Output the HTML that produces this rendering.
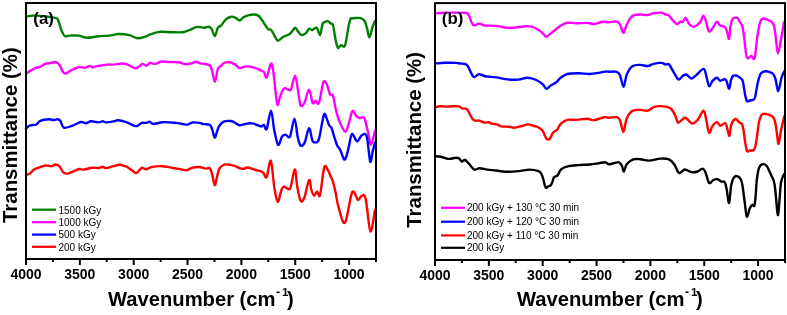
<!DOCTYPE html>
<html><head><meta charset="utf-8"><style>
html,body{margin:0;padding:0;background:#fff;}
svg{display:block;font-family:"Liberation Sans", sans-serif;will-change:transform;}
</style></head><body>
<svg width="787" height="315" viewBox="0 0 787 315">
<rect width="787" height="315" fill="#fff"/>
<g fill="none" stroke-width="2.4" stroke-linejoin="round" stroke-linecap="round">
<path stroke="#008000" d="M26.10,16.70 C27.40,16.52 29.08,15.42 33.90,15.60 C38.72,15.78 50.92,16.88 55.00,17.80 C59.08,18.72 57.28,18.88 58.40,21.10 C59.52,23.32 60.60,28.58 61.70,31.10 C62.80,33.62 63.70,35.45 65.00,36.20 C66.30,36.95 67.27,35.70 69.50,35.60 C71.73,35.50 75.43,35.23 78.40,35.60 C81.37,35.97 83.97,37.70 87.30,37.80 C90.63,37.90 94.70,36.57 98.40,36.20 C102.10,35.83 106.17,35.97 109.50,35.60 C112.83,35.23 115.07,34.08 118.40,34.00 C121.73,33.92 126.35,34.40 129.50,35.10 C132.65,35.80 134.70,37.93 137.30,38.20 C139.90,38.47 142.68,37.43 145.10,36.70 C147.52,35.97 149.22,34.62 151.80,33.80 C154.38,32.98 157.27,32.07 160.60,31.80 C163.93,31.53 168.08,32.13 171.80,32.20 C175.52,32.27 179.93,32.57 182.90,32.20 C185.87,31.83 187.38,30.85 189.60,30.00 C191.82,29.15 194.47,27.58 196.20,27.10 C197.93,26.62 198.63,26.98 200.00,27.10 C201.37,27.22 202.92,27.87 204.40,27.80 C205.88,27.73 207.70,26.52 208.90,26.70 C210.10,26.88 210.60,27.35 211.60,28.90 C212.60,30.45 213.87,36.18 214.90,36.00 C215.93,35.82 216.77,29.53 217.80,27.80 C218.83,26.07 219.80,26.97 221.10,25.60 C222.40,24.23 223.93,21.08 225.60,19.60 C227.27,18.12 229.43,17.00 231.10,16.70 C232.77,16.40 234.18,17.17 235.60,17.80 C237.02,18.43 238.30,20.58 239.60,20.50 C240.90,20.42 241.85,18.20 243.40,17.30 C244.95,16.40 247.05,15.57 248.90,15.10 C250.75,14.63 252.83,14.35 254.50,14.50 C256.17,14.65 257.42,14.72 258.90,16.00 C260.38,17.28 261.92,20.05 263.40,22.20 C264.88,24.35 266.50,27.60 267.80,28.90 C269.10,30.20 270.08,28.88 271.20,30.00 C272.32,31.12 273.40,33.82 274.50,35.60 C275.60,37.38 276.32,40.52 277.80,40.70 C279.28,40.88 281.53,37.73 283.40,36.70 C285.27,35.67 287.52,35.43 289.00,34.50 C290.48,33.57 291.27,32.22 292.30,31.10 C293.33,29.98 294.28,27.80 295.20,27.80 C296.12,27.80 296.80,29.92 297.80,31.10 C298.80,32.28 299.90,34.52 301.20,34.90 C302.50,35.28 304.30,34.40 305.60,33.40 C306.90,32.40 307.88,29.47 309.00,28.90 C310.12,28.33 311.02,30.18 312.30,30.00 C313.58,29.82 315.40,26.98 316.70,27.80 C318.00,28.62 319.13,35.53 320.10,34.90 C321.07,34.27 321.72,26.15 322.50,24.00 C323.28,21.85 323.92,22.47 324.80,22.00 C325.68,21.53 326.82,20.95 327.80,21.20 C328.78,21.45 329.83,22.83 330.70,23.50 C331.57,24.17 332.18,22.45 333.00,25.20 C333.82,27.95 334.78,36.23 335.60,40.00 C336.42,43.77 336.97,46.95 337.90,47.80 C338.83,48.65 340.02,45.47 341.20,45.10 C342.38,44.73 343.78,48.67 345.00,45.60 C346.22,42.53 347.58,31.13 348.50,26.70 C349.42,22.27 349.92,20.42 350.50,19.00 C351.08,17.58 351.08,18.37 352.00,18.20 C352.92,18.03 354.58,18.00 356.00,18.00 C357.42,18.00 359.07,17.70 360.50,18.20 C361.93,18.70 363.48,19.22 364.60,21.00 C365.72,22.78 366.40,26.17 367.20,28.90 C368.00,31.63 368.55,37.58 369.40,37.40 C370.25,37.22 371.37,30.52 372.30,27.80 C373.23,25.08 374.55,22.22 375.00,21.10"/>
<path stroke="#ff00ff" d="M26.10,73.50 C26.85,73.02 28.93,71.53 30.60,70.60 C32.27,69.67 34.43,68.57 36.10,67.90 C37.77,67.23 39.12,67.27 40.60,66.60 C42.08,65.93 43.33,64.50 45.00,63.90 C46.67,63.30 48.82,63.32 50.60,63.00 C52.38,62.68 54.22,61.67 55.70,62.00 C57.18,62.33 58.32,63.38 59.50,65.00 C60.68,66.62 61.77,70.28 62.80,71.70 C63.83,73.12 64.40,73.68 65.70,73.50 C67.00,73.32 68.48,71.65 70.60,70.60 C72.72,69.55 76.00,67.68 78.40,67.20 C80.80,66.72 83.15,67.92 85.00,67.70 C86.85,67.48 88.20,65.98 89.50,65.90 C90.80,65.82 91.32,67.20 92.80,67.20 C94.28,67.20 95.98,66.33 98.40,65.90 C100.82,65.47 104.72,64.82 107.30,64.60 C109.88,64.38 111.32,64.78 113.90,64.60 C116.48,64.42 120.38,63.43 122.80,63.50 C125.22,63.57 126.35,64.20 128.40,65.00 C130.45,65.80 133.35,68.00 135.10,68.30 C136.85,68.60 137.68,67.53 138.90,66.80 C140.12,66.07 141.12,64.08 142.40,63.90 C143.68,63.72 145.30,65.88 146.60,65.70 C147.90,65.52 148.78,63.10 150.20,62.80 C151.62,62.50 153.17,64.12 155.10,63.90 C157.03,63.68 159.40,61.80 161.80,61.50 C164.20,61.20 166.73,61.97 169.50,62.10 C172.27,62.23 175.80,61.97 178.40,62.30 C181.00,62.63 183.05,63.87 185.10,64.10 C187.15,64.33 188.85,64.10 190.70,63.70 C192.55,63.30 194.65,61.77 196.20,61.70 C197.75,61.63 198.43,62.92 200.00,63.30 C201.57,63.68 203.93,63.62 205.60,64.00 C207.27,64.38 208.90,64.42 210.00,65.60 C211.10,66.78 211.38,68.40 212.20,71.10 C213.02,73.80 214.02,81.98 214.90,81.80 C215.78,81.62 216.82,72.38 217.50,70.00 C218.18,67.62 218.42,68.17 219.00,67.50 C219.58,66.83 220.20,66.75 221.00,66.00 C221.80,65.25 222.30,63.62 223.80,63.00 C225.30,62.38 228.10,62.03 230.00,62.30 C231.90,62.57 233.60,63.63 235.20,64.60 C236.80,65.57 238.13,67.72 239.60,68.10 C241.07,68.48 242.70,67.18 244.00,66.90 C245.30,66.62 245.67,66.28 247.40,66.40 C249.13,66.52 252.20,66.93 254.40,67.60 C256.60,68.27 259.00,69.65 260.60,70.40 C262.20,71.15 262.98,70.93 264.00,72.10 C265.02,73.27 265.53,78.80 266.70,77.40 C267.87,76.00 269.88,64.57 271.00,63.70 C272.12,62.83 272.37,65.48 273.40,72.20 C274.43,78.92 276.10,99.92 277.20,104.00 C278.30,108.08 278.85,99.28 280.00,96.70 C281.15,94.12 282.60,89.62 284.10,88.50 C285.60,87.38 287.82,89.93 289.00,90.00 C290.18,90.07 290.20,91.30 291.20,88.90 C292.20,86.50 293.90,75.60 295.00,75.60 C296.10,75.60 296.88,83.98 297.80,88.90 C298.72,93.82 299.38,102.80 300.50,105.10 C301.62,107.40 303.08,105.28 304.50,102.70 C305.92,100.12 307.63,89.57 309.00,89.60 C310.37,89.63 311.60,101.05 312.70,102.90 C313.80,104.75 314.55,100.70 315.60,100.70 C316.65,100.70 317.70,105.98 319.00,102.90 C320.30,99.82 322.10,85.27 323.40,82.20 C324.70,79.13 325.68,82.45 326.80,84.50 C327.92,86.55 329.07,92.65 330.10,94.50 C331.13,96.35 332.07,93.18 333.00,95.60 C333.93,98.02 334.65,104.77 335.70,109.00 C336.75,113.23 337.72,117.22 339.30,121.00 C340.88,124.78 343.62,131.32 345.20,131.70 C346.78,132.08 347.60,126.75 348.80,123.30 C350.00,119.85 351.20,112.27 352.40,111.00 C353.60,109.73 354.82,114.52 356.00,115.70 C357.18,116.88 358.12,117.70 359.50,118.10 C360.88,118.50 362.90,115.83 364.30,118.10 C365.70,120.37 366.78,127.25 367.90,131.70 C369.02,136.15 369.82,145.00 371.00,144.80 C372.18,144.60 374.33,132.88 375.00,130.50"/>
<path stroke="#0000ff" d="M26.00,128.40 C26.68,127.90 28.37,126.05 30.10,125.40 C31.83,124.75 34.72,125.25 36.40,124.50 C38.08,123.75 38.08,121.77 40.20,120.90 C42.32,120.03 46.87,119.43 49.10,119.30 C51.33,119.17 52.12,120.12 53.60,120.10 C55.08,120.08 56.83,119.00 58.00,119.20 C59.17,119.40 59.63,119.88 60.60,121.30 C61.57,122.72 61.90,126.95 63.80,127.70 C65.70,128.45 69.15,126.75 72.00,125.80 C74.85,124.85 78.57,122.43 80.90,122.00 C83.23,121.57 84.30,123.32 86.00,123.20 C87.70,123.08 88.98,121.43 91.10,121.30 C93.22,121.17 96.80,122.40 98.70,122.40 C100.60,122.40 101.23,121.30 102.50,121.30 C103.77,121.30 104.38,122.40 106.30,122.40 C108.22,122.40 112.08,121.65 114.00,121.30 C115.92,120.95 115.77,120.15 117.80,120.30 C119.83,120.45 123.50,121.32 126.20,122.20 C128.90,123.08 132.15,124.97 134.00,125.60 C135.85,126.23 136.02,126.45 137.30,126.00 C138.58,125.55 140.22,123.42 141.70,122.90 C143.18,122.38 144.90,123.08 146.20,122.90 C147.50,122.72 148.28,121.62 149.50,121.80 C150.72,121.98 151.27,123.93 153.50,124.00 C155.73,124.07 159.12,122.38 162.90,122.20 C166.68,122.02 173.13,122.65 176.20,122.90 C179.27,123.15 179.38,123.42 181.30,123.70 C183.22,123.98 185.83,124.80 187.70,124.60 C189.57,124.40 190.52,122.78 192.50,122.50 C194.48,122.22 197.75,122.63 199.60,122.90 C201.45,123.17 201.88,123.77 203.60,124.10 C205.32,124.43 208.45,123.97 209.90,124.90 C211.35,125.83 211.50,127.58 212.30,129.70 C213.10,131.82 213.90,137.33 214.70,137.60 C215.50,137.87 216.32,133.28 217.10,131.30 C217.88,129.32 218.22,127.35 219.40,125.70 C220.58,124.05 222.33,122.18 224.20,121.40 C226.07,120.62 228.88,120.82 230.60,121.00 C232.32,121.18 233.05,121.80 234.50,122.50 C235.95,123.20 237.58,124.93 239.30,125.20 C241.02,125.47 243.08,124.42 244.80,124.10 C246.52,123.78 248.13,123.37 249.60,123.30 C251.07,123.23 252.28,123.38 253.60,123.70 C254.92,124.02 256.18,124.73 257.50,125.20 C258.82,125.67 260.43,126.55 261.50,126.50 C262.57,126.45 263.03,124.50 263.90,124.90 C264.77,125.30 265.52,131.28 266.70,128.90 C267.88,126.52 269.75,110.47 271.00,110.60 C272.25,110.73 273.02,124.00 274.20,129.70 C275.38,135.40 276.78,143.68 278.10,144.80 C279.42,145.92 280.83,138.07 282.10,136.40 C283.37,134.73 284.38,134.80 285.70,134.80 C287.02,134.80 288.53,139.10 290.00,136.40 C291.47,133.70 293.23,118.60 294.50,118.60 C295.77,118.60 296.60,131.92 297.60,136.40 C298.60,140.88 299.30,144.50 300.50,145.50 C301.70,146.50 303.38,145.30 304.80,142.40 C306.22,139.50 307.73,128.42 309.00,128.10 C310.27,127.78 311.32,138.12 312.40,140.50 C313.48,142.88 314.40,142.68 315.50,142.40 C316.60,142.12 317.62,143.37 319.00,138.80 C320.38,134.23 322.55,118.47 323.80,115.00 C325.05,111.53 325.63,116.33 326.50,118.00 C327.37,119.67 328.17,123.33 329.00,125.00 C329.83,126.67 330.67,126.17 331.50,128.00 C332.33,129.83 333.08,133.17 334.00,136.00 C334.92,138.83 335.92,142.58 337.00,145.00 C338.08,147.42 339.33,148.10 340.50,150.50 C341.67,152.90 343.00,158.48 344.00,159.40 C345.00,160.32 345.67,158.23 346.50,156.00 C347.33,153.77 348.08,149.67 349.00,146.00 C349.92,142.33 350.65,134.80 352.00,134.00 C353.35,133.20 355.45,141.00 357.10,141.20 C358.75,141.40 360.30,136.00 361.90,135.20 C363.50,134.40 365.32,132.03 366.70,136.40 C368.08,140.77 369.22,158.82 370.20,161.40 C371.18,163.98 371.80,155.07 372.60,151.90 C373.40,148.73 374.60,143.98 375.00,142.40"/>
<path stroke="#ff0000" d="M26.00,174.80 C26.68,174.57 28.78,174.27 30.10,173.40 C31.42,172.53 32.22,170.65 33.90,169.60 C35.58,168.55 38.18,167.78 40.20,167.10 C42.22,166.42 44.08,165.65 46.00,165.50 C47.92,165.35 50.12,166.37 51.70,166.20 C53.28,166.03 54.23,164.50 55.50,164.50 C56.77,164.50 58.03,164.92 59.30,166.20 C60.57,167.48 62.03,171.00 63.10,172.20 C64.17,173.40 64.75,173.20 65.70,173.40 C66.65,173.60 67.53,173.75 68.80,173.40 C70.07,173.05 71.50,172.03 73.30,171.30 C75.10,170.57 77.90,169.28 79.60,169.00 C81.30,168.72 81.38,169.82 83.50,169.60 C85.62,169.38 89.77,167.97 92.30,167.70 C94.83,167.43 97.00,168.15 98.70,168.00 C100.40,167.85 101.23,166.78 102.50,166.80 C103.77,166.82 104.60,168.17 106.30,168.10 C108.00,168.03 110.47,166.95 112.70,166.40 C114.93,165.85 117.65,164.83 119.70,164.80 C121.75,164.77 123.73,165.82 125.00,166.20 C126.27,166.58 125.98,166.28 127.30,167.10 C128.62,167.92 131.35,170.13 132.90,171.10 C134.45,172.07 135.13,173.45 136.60,172.90 C138.07,172.35 140.10,168.40 141.70,167.80 C143.30,167.20 144.60,169.42 146.20,169.30 C147.80,169.18 148.70,167.62 151.30,167.10 C153.90,166.58 158.38,166.08 161.80,166.20 C165.22,166.32 168.55,167.27 171.80,167.80 C175.05,168.33 178.78,169.00 181.30,169.40 C183.82,169.80 185.17,170.47 186.90,170.20 C188.63,169.93 189.72,168.33 191.70,167.80 C193.68,167.27 196.42,166.87 198.80,167.00 C201.18,167.13 204.15,168.38 206.00,168.60 C207.85,168.82 208.85,167.25 209.90,168.30 C210.95,169.35 211.50,172.08 212.30,174.90 C213.10,177.72 213.90,184.93 214.70,185.20 C215.50,185.47 216.32,179.27 217.10,176.50 C217.88,173.73 218.22,170.58 219.40,168.60 C220.58,166.62 222.33,165.22 224.20,164.60 C226.07,163.98 228.75,164.63 230.60,164.90 C232.45,165.17 233.72,165.63 235.30,166.20 C236.88,166.77 238.77,167.85 240.10,168.30 C241.43,168.75 241.98,169.03 243.30,168.90 C244.62,168.77 245.93,167.32 248.00,167.50 C250.07,167.68 253.23,169.20 255.70,170.00 C258.17,170.80 260.98,171.12 262.80,172.30 C264.62,173.48 265.27,179.02 266.60,177.10 C267.93,175.18 269.52,159.13 270.80,160.80 C272.08,162.47 273.15,180.25 274.30,187.10 C275.45,193.95 276.52,201.42 277.70,201.90 C278.88,202.38 280.32,192.57 281.40,190.00 C282.48,187.43 282.77,186.75 284.20,186.50 C285.63,186.25 288.23,191.35 290.00,188.50 C291.77,185.65 293.62,169.87 294.80,169.40 C295.98,168.93 296.15,180.52 297.10,185.70 C298.05,190.88 299.32,198.45 300.50,200.50 C301.68,202.55 302.77,201.42 304.20,198.00 C305.63,194.58 307.90,181.33 309.10,180.00 C310.30,178.67 310.55,187.38 311.40,190.00 C312.25,192.62 313.25,195.47 314.20,195.70 C315.15,195.93 316.13,191.50 317.10,191.40 C318.07,191.30 318.82,199.05 320.00,195.10 C321.18,191.15 322.93,171.98 324.20,167.70 C325.47,163.42 326.55,168.02 327.60,169.40 C328.65,170.78 329.60,173.90 330.50,176.00 C331.40,178.10 332.17,179.33 333.00,182.00 C333.83,184.67 334.58,187.82 335.50,192.00 C336.42,196.18 336.92,201.97 338.50,207.10 C340.08,212.23 342.72,225.28 345.00,222.80 C347.28,220.32 350.05,196.00 352.20,192.20 C354.35,188.40 356.38,199.33 357.90,200.00 C359.42,200.67 360.02,196.45 361.30,196.20 C362.58,195.95 364.08,192.65 365.60,198.50 C367.12,204.35 368.83,229.38 370.40,231.30 C371.97,233.22 374.23,213.55 375.00,210.00"/>
<path stroke="#ff00ff" d="M435.10,13.30 C436.77,13.20 440.10,12.77 445.10,12.70 C450.10,12.63 461.33,12.70 465.10,12.90 C468.87,13.10 466.95,13.20 467.70,13.90 C468.45,14.60 468.97,15.72 469.60,17.10 C470.23,18.48 470.77,20.82 471.50,22.20 C472.23,23.58 472.70,25.17 474.00,25.40 C475.30,25.63 477.45,23.57 479.30,23.60 C481.15,23.63 483.02,25.27 485.10,25.60 C487.18,25.93 489.57,25.50 491.80,25.60 C494.03,25.70 495.90,25.83 498.50,26.20 C501.10,26.57 504.43,27.60 507.40,27.80 C510.37,28.00 513.33,27.67 516.30,27.40 C519.27,27.13 522.62,26.32 525.20,26.20 C527.78,26.08 529.58,26.07 531.80,26.70 C534.02,27.33 536.63,28.88 538.50,30.00 C540.37,31.12 541.70,32.28 543.00,33.40 C544.30,34.52 545.02,36.70 546.30,36.70 C547.58,36.70 549.22,34.52 550.70,33.40 C552.18,32.28 553.53,31.30 555.20,30.00 C556.87,28.70 558.67,26.82 560.70,25.60 C562.73,24.38 564.80,23.08 567.40,22.70 C570.00,22.32 572.97,23.27 576.30,23.30 C579.63,23.33 584.43,22.78 587.40,22.90 C590.37,23.02 591.50,24.18 594.10,24.00 C596.70,23.82 600.52,22.10 603.00,21.80 C605.48,21.50 606.70,22.23 609.00,22.20 C611.30,22.17 614.95,21.22 616.80,21.60 C618.65,21.98 618.98,22.62 620.10,24.50 C621.22,26.38 622.38,32.90 623.50,32.90 C624.62,32.90 625.33,27.32 626.80,24.50 C628.27,21.68 630.08,17.67 632.30,16.00 C634.52,14.33 637.50,14.65 640.10,14.50 C642.70,14.35 645.67,15.30 647.90,15.10 C650.13,14.90 651.27,13.70 653.50,13.30 C655.73,12.90 659.27,12.50 661.30,12.70 C663.33,12.90 664.42,14.02 665.70,14.50 C666.98,14.98 667.70,14.50 669.00,15.60 C670.30,16.70 672.08,19.70 673.50,21.10 C674.92,22.50 676.38,23.92 677.50,24.00 C678.62,24.08 679.28,21.97 680.20,21.60 C681.12,21.23 682.08,22.43 683.00,21.80 C683.92,21.17 684.68,17.43 685.70,17.80 C686.72,18.17 687.80,22.52 689.10,24.00 C690.40,25.48 692.03,26.62 693.50,26.70 C694.97,26.78 696.68,25.43 697.90,24.50 C699.12,23.57 699.87,22.58 700.80,21.10 C701.73,19.62 702.60,15.42 703.50,15.60 C704.40,15.78 705.27,19.53 706.20,22.20 C707.13,24.87 707.88,30.85 709.10,31.60 C710.32,32.35 712.20,28.33 713.50,26.70 C714.80,25.07 715.78,21.98 716.90,21.80 C718.02,21.62 718.92,24.78 720.20,25.60 C721.48,26.42 723.48,25.78 724.60,26.70 C725.72,27.62 726.15,29.07 726.90,31.10 C727.65,33.13 728.50,39.75 729.10,38.90 C729.70,38.05 729.93,29.32 730.50,26.00 C731.07,22.68 731.75,20.37 732.50,19.00 C733.25,17.63 734.17,17.97 735.00,17.80 C735.83,17.63 736.75,17.38 737.50,18.00 C738.25,18.62 738.83,20.42 739.50,21.50 C740.17,22.58 740.92,23.25 741.50,24.50 C742.08,25.75 742.50,26.42 743.00,29.00 C743.50,31.58 743.85,35.27 744.50,40.00 C745.15,44.73 745.77,54.73 746.90,57.40 C748.03,60.07 750.00,55.93 751.30,56.00 C752.60,56.07 753.67,61.20 754.70,57.80 C755.73,54.40 756.40,41.97 757.50,35.60 C758.60,29.23 759.55,22.20 761.30,19.60 C763.05,17.00 765.95,19.18 768.00,20.00 C770.05,20.82 772.30,21.53 773.60,24.50 C774.90,27.47 775.07,32.98 775.80,37.80 C776.53,42.62 777.08,53.40 778.00,53.40 C778.92,53.40 780.30,43.00 781.30,37.80 C782.30,32.60 783.55,24.80 784.00,22.20"/>
<path stroke="#0000ff" d="M435.10,63.50 C436.77,63.38 441.58,62.90 445.10,62.80 C448.62,62.70 453.72,62.78 456.20,62.90 C458.68,63.02 458.52,63.32 460.00,63.50 C461.48,63.68 463.82,63.60 465.10,64.00 C466.38,64.40 466.85,64.73 467.70,65.90 C468.55,67.07 469.47,69.52 470.20,71.00 C470.93,72.48 471.40,73.78 472.10,74.80 C472.80,75.82 473.23,77.22 474.40,77.10 C475.57,76.98 477.32,74.25 479.10,74.10 C480.88,73.95 482.23,75.65 485.10,76.20 C487.97,76.75 492.58,76.87 496.30,77.40 C500.02,77.93 503.70,79.03 507.40,79.40 C511.10,79.77 515.17,79.87 518.50,79.60 C521.83,79.33 524.43,77.73 527.40,77.80 C530.37,77.87 533.70,78.88 536.30,80.00 C538.90,81.12 541.33,83.02 543.00,84.50 C544.67,85.98 545.02,88.72 546.30,88.90 C547.58,89.08 549.03,86.72 550.70,85.60 C552.37,84.48 554.63,83.50 556.30,82.20 C557.97,80.90 558.85,79.17 560.70,77.80 C562.55,76.43 564.43,74.75 567.40,74.00 C570.37,73.25 574.78,73.30 578.50,73.30 C582.22,73.30 586.35,74.07 589.70,74.00 C593.05,73.93 596.02,73.30 598.60,72.90 C601.18,72.50 603.47,71.78 605.20,71.60 C606.93,71.42 607.07,71.77 609.00,71.80 C610.93,71.83 614.95,71.17 616.80,71.80 C618.65,72.43 618.98,73.12 620.10,75.60 C621.22,78.08 622.38,86.88 623.50,86.70 C624.62,86.52 625.33,77.92 626.80,74.50 C628.27,71.08 630.08,67.80 632.30,66.20 C634.52,64.60 637.50,64.93 640.10,64.90 C642.70,64.87 645.67,66.18 647.90,66.00 C650.13,65.82 651.27,64.32 653.50,63.80 C655.73,63.28 659.27,62.78 661.30,62.90 C663.33,63.02 664.42,64.23 665.70,64.50 C666.98,64.77 667.70,63.28 669.00,64.50 C670.30,65.72 671.93,69.32 673.50,71.80 C675.07,74.28 676.92,78.67 678.40,79.40 C679.88,80.13 681.07,77.02 682.40,76.20 C683.73,75.38 684.92,74.12 686.40,74.50 C687.88,74.88 689.75,78.32 691.30,78.50 C692.85,78.68 693.67,77.20 695.70,75.60 C697.73,74.00 701.75,68.90 703.50,68.90 C705.25,68.90 705.27,72.72 706.20,75.60 C707.13,78.48 708.07,85.28 709.10,86.20 C710.13,87.12 711.10,82.50 712.40,81.10 C713.70,79.70 715.60,77.87 716.90,77.80 C718.20,77.73 718.73,80.40 720.20,80.70 C721.67,81.00 724.22,78.23 725.70,79.60 C727.18,80.97 728.22,88.83 729.10,88.90 C729.98,88.97 730.35,82.15 731.00,80.00 C731.65,77.85 732.17,76.75 733.00,76.00 C733.83,75.25 735.00,75.33 736.00,75.50 C737.00,75.67 738.08,76.42 739.00,77.00 C739.92,77.58 740.83,78.17 741.50,79.00 C742.17,79.83 742.42,79.50 743.00,82.00 C743.58,84.50 744.33,90.78 745.00,94.00 C745.67,97.22 746.17,100.22 747.00,101.30 C747.83,102.38 749.00,100.75 750.00,100.50 C751.00,100.25 752.17,100.30 753.00,99.80 C753.83,99.30 754.23,100.20 755.00,97.50 C755.77,94.80 756.77,87.35 757.60,83.60 C758.43,79.85 759.27,76.85 760.00,75.00 C760.73,73.15 760.97,73.13 762.00,72.50 C763.03,71.87 764.55,71.10 766.20,71.20 C767.85,71.30 770.47,72.13 771.90,73.10 C773.33,74.07 774.03,75.18 774.80,77.00 C775.57,78.82 775.97,81.63 776.50,84.00 C777.03,86.37 777.42,91.03 778.00,91.20 C778.58,91.37 779.43,87.20 780.00,85.00 C780.57,82.80 780.68,80.30 781.40,78.00 C782.12,75.70 783.82,72.33 784.30,71.20"/>
<path stroke="#ff0000" d="M435.10,107.50 C435.92,107.28 438.02,106.35 440.00,106.20 C441.98,106.05 445.00,106.58 447.00,106.60 C449.00,106.62 450.00,106.35 452.00,106.30 C454.00,106.25 457.25,105.93 459.00,106.30 C460.75,106.67 461.25,108.08 462.50,108.50 C463.75,108.92 465.50,108.30 466.50,108.80 C467.50,109.30 467.83,110.38 468.50,111.50 C469.17,112.62 469.83,114.25 470.50,115.50 C471.17,116.75 471.75,118.13 472.50,119.00 C473.25,119.87 473.92,120.43 475.00,120.70 C476.08,120.97 477.37,120.28 479.00,120.60 C480.63,120.92 483.20,122.33 484.80,122.60 C486.40,122.87 487.32,121.98 488.60,122.20 C489.88,122.42 491.22,123.58 492.50,123.90 C493.78,124.22 494.83,123.68 496.30,124.10 C497.77,124.52 499.18,125.97 501.30,126.40 C503.42,126.83 506.88,126.48 509.00,126.70 C511.12,126.92 511.88,127.82 514.00,127.70 C516.12,127.58 519.37,126.55 521.70,126.00 C524.03,125.45 525.95,124.40 528.00,124.40 C530.05,124.40 532.43,125.60 534.00,126.00 C535.57,126.40 535.98,126.03 537.40,126.80 C538.82,127.57 541.02,128.67 542.50,130.60 C543.98,132.53 545.12,137.00 546.30,138.40 C547.48,139.80 548.48,139.93 549.60,139.00 C550.72,138.07 551.70,134.38 553.00,132.80 C554.30,131.22 556.12,130.98 557.40,129.50 C558.68,128.02 559.03,125.50 560.70,123.90 C562.37,122.30 564.80,120.57 567.40,119.90 C570.00,119.23 572.97,120.08 576.30,119.90 C579.63,119.72 584.43,118.77 587.40,118.80 C590.37,118.83 591.32,120.37 594.10,120.10 C596.88,119.83 601.62,117.60 604.10,117.20 C606.58,116.80 606.88,117.70 609.00,117.70 C611.12,117.70 614.95,116.72 616.80,117.20 C618.65,117.68 618.98,118.18 620.10,120.60 C621.22,123.02 622.38,132.08 623.50,131.70 C624.62,131.32 625.33,121.75 626.80,118.30 C628.27,114.85 630.08,112.40 632.30,111.00 C634.52,109.60 637.50,109.97 640.10,109.90 C642.70,109.83 645.67,111.05 647.90,110.60 C650.13,110.15 651.47,107.95 653.50,107.20 C655.53,106.45 657.70,106.10 660.10,106.10 C662.50,106.10 666.12,106.80 667.90,107.20 C669.68,107.60 669.88,107.70 670.80,108.50 C671.72,109.30 672.65,110.83 673.40,112.00 C674.15,113.17 674.73,114.17 675.30,115.50 C675.87,116.83 676.28,118.78 676.80,120.00 C677.32,121.22 677.47,122.88 678.40,122.80 C679.33,122.72 681.18,120.32 682.40,119.50 C683.62,118.68 684.03,117.23 685.70,117.90 C687.37,118.57 690.37,123.23 692.40,123.50 C694.43,123.77 696.05,121.65 697.90,119.50 C699.75,117.35 702.12,110.60 703.50,110.60 C704.88,110.60 705.27,115.80 706.20,119.50 C707.13,123.20 708.07,131.70 709.10,132.80 C710.13,133.90 711.10,127.88 712.40,126.10 C713.70,124.32 715.60,122.17 716.90,122.10 C718.20,122.03 718.73,125.47 720.20,125.70 C721.67,125.93 724.22,121.82 725.70,123.50 C727.18,125.18 728.22,135.38 729.10,135.80 C729.98,136.22 730.35,128.47 731.00,126.00 C731.65,123.53 732.22,122.17 733.00,121.00 C733.78,119.83 734.62,118.75 735.70,119.00 C736.78,119.25 738.45,121.67 739.50,122.50 C740.55,123.33 741.33,122.75 742.00,124.00 C742.67,125.25 743.00,127.17 743.50,130.00 C744.00,132.83 744.42,137.50 745.00,141.00 C745.58,144.50 746.17,149.42 747.00,151.00 C747.83,152.58 748.83,150.70 750.00,150.50 C751.17,150.30 753.00,151.05 754.00,149.80 C755.00,148.55 755.42,145.80 756.00,143.00 C756.58,140.20 757.00,136.50 757.50,133.00 C758.00,129.50 758.35,124.97 759.00,122.00 C759.65,119.03 760.52,116.58 761.40,115.20 C762.28,113.82 762.87,113.70 764.30,113.70 C765.73,113.70 768.42,114.47 770.00,115.20 C771.58,115.93 772.85,116.47 773.80,118.10 C774.75,119.73 775.17,122.35 775.70,125.00 C776.23,127.65 776.52,130.87 777.00,134.00 C777.48,137.13 777.93,144.38 778.60,143.80 C779.27,143.22 780.05,135.10 781.00,130.50 C781.95,125.90 783.75,118.58 784.30,116.20"/>
<path stroke="#000000" d="M435.10,156.20 C436.03,156.28 438.47,156.25 440.70,156.70 C442.93,157.15 445.92,158.72 448.50,158.90 C451.08,159.08 454.35,157.80 456.20,157.80 C458.05,157.80 458.67,158.27 459.60,158.90 C460.53,159.53 460.88,161.42 461.80,161.60 C462.72,161.78 463.80,159.52 465.10,160.00 C466.40,160.48 468.03,162.90 469.60,164.50 C471.17,166.10 472.83,168.98 474.50,169.60 C476.17,170.22 477.45,168.20 479.60,168.20 C481.75,168.20 484.62,169.22 487.40,169.60 C490.18,169.98 493.33,170.13 496.30,170.50 C499.27,170.87 501.50,171.70 505.20,171.80 C508.90,171.90 514.43,171.47 518.50,171.10 C522.57,170.73 526.27,169.60 529.60,169.60 C532.93,169.60 536.52,170.37 538.50,171.10 C540.48,171.83 540.67,172.52 541.50,174.00 C542.33,175.48 542.92,178.00 543.50,180.00 C544.08,182.00 544.53,184.67 545.00,186.00 C545.47,187.33 545.80,187.92 546.30,188.00 C546.80,188.08 547.30,186.92 548.00,186.50 C548.70,186.08 549.83,186.08 550.50,185.50 C551.17,184.92 551.42,184.37 552.00,183.00 C552.58,181.63 553.07,178.57 554.00,177.30 C554.93,176.03 556.42,176.73 557.60,175.40 C558.78,174.07 559.28,170.83 561.10,169.30 C562.92,167.77 565.60,166.90 568.50,166.20 C571.40,165.50 574.97,165.38 578.50,165.10 C582.03,164.82 586.35,164.80 589.70,164.50 C593.05,164.20 596.02,163.68 598.60,163.30 C601.18,162.92 603.47,162.03 605.20,162.20 C606.93,162.37 607.42,164.18 609.00,164.30 C610.58,164.42 613.03,163.23 614.70,162.90 C616.37,162.57 617.80,161.83 619.00,162.30 C620.20,162.77 621.08,164.17 621.90,165.70 C622.72,167.23 623.10,171.73 623.90,171.50 C624.70,171.27 625.13,166.32 626.70,164.30 C628.27,162.28 631.00,160.25 633.30,159.40 C635.60,158.55 637.88,159.00 640.50,159.20 C643.12,159.40 645.67,160.70 649.00,160.60 C652.33,160.50 657.17,158.80 660.50,158.60 C663.83,158.40 666.72,158.45 669.00,159.40 C671.28,160.35 672.52,162.05 674.20,164.30 C675.88,166.55 677.33,172.03 679.10,172.90 C680.87,173.77 682.67,169.60 684.80,169.50 C686.93,169.40 689.77,171.97 691.90,172.30 C694.03,172.63 695.78,172.12 697.60,171.50 C699.42,170.88 701.45,168.37 702.80,168.60 C704.15,168.83 704.65,170.52 705.70,172.90 C706.75,175.28 707.82,181.72 709.10,182.90 C710.38,184.08 711.97,180.62 713.40,180.00 C714.83,179.38 716.42,178.95 717.70,179.20 C718.98,179.45 719.92,180.98 721.10,181.50 C722.28,182.02 723.85,180.88 724.80,182.30 C725.75,183.72 726.08,186.57 726.80,190.00 C727.52,193.43 728.33,203.85 729.10,202.90 C729.87,201.95 730.45,188.68 731.40,184.30 C732.35,179.92 733.52,177.78 734.80,176.60 C736.08,175.42 737.90,176.15 739.10,177.20 C740.30,178.25 741.05,178.62 742.00,182.90 C742.95,187.18 744.00,197.28 744.80,202.90 C745.60,208.52 745.98,215.65 746.80,216.60 C747.62,217.55 748.80,210.53 749.70,208.60 C750.60,206.67 751.42,205.52 752.20,205.00 C752.98,204.48 753.82,207.17 754.40,205.50 C754.98,203.83 755.30,199.25 755.70,195.00 C756.10,190.75 756.27,184.45 756.80,180.00 C757.33,175.55 758.00,170.92 758.90,168.30 C759.80,165.68 760.90,164.68 762.20,164.30 C763.50,163.92 765.22,164.22 766.70,166.00 C768.18,167.78 769.88,172.38 771.10,175.00 C772.32,177.62 773.27,178.87 774.00,181.70 C774.73,184.53 774.87,186.45 775.50,192.00 C776.13,197.55 777.13,213.67 777.80,215.00 C778.47,216.33 778.95,205.50 779.50,200.00 C780.05,194.50 780.35,186.28 781.10,182.00 C781.85,177.72 783.52,175.58 784.00,174.30"/>
</g>
<rect x="26" y="3" width="350" height="256" fill="none" stroke="#000" stroke-width="2"/>
<line x1="376.00" y1="259" x2="376.00" y2="262" stroke="#000" stroke-width="2"/>
<line x1="349.08" y1="259" x2="349.08" y2="265" stroke="#000" stroke-width="2"/>
<text x="349.08" y="278.5" text-anchor="middle" font-size="14" font-weight="700">1000</text>
<line x1="322.15" y1="259" x2="322.15" y2="262" stroke="#000" stroke-width="2"/>
<line x1="295.23" y1="259" x2="295.23" y2="265" stroke="#000" stroke-width="2"/>
<text x="295.23" y="278.5" text-anchor="middle" font-size="14" font-weight="700">1500</text>
<line x1="268.31" y1="259" x2="268.31" y2="262" stroke="#000" stroke-width="2"/>
<line x1="241.38" y1="259" x2="241.38" y2="265" stroke="#000" stroke-width="2"/>
<text x="241.38" y="278.5" text-anchor="middle" font-size="14" font-weight="700">2000</text>
<line x1="214.46" y1="259" x2="214.46" y2="262" stroke="#000" stroke-width="2"/>
<line x1="187.54" y1="259" x2="187.54" y2="265" stroke="#000" stroke-width="2"/>
<text x="187.54" y="278.5" text-anchor="middle" font-size="14" font-weight="700">2500</text>
<line x1="160.62" y1="259" x2="160.62" y2="262" stroke="#000" stroke-width="2"/>
<line x1="133.69" y1="259" x2="133.69" y2="265" stroke="#000" stroke-width="2"/>
<text x="133.69" y="278.5" text-anchor="middle" font-size="14" font-weight="700">3000</text>
<line x1="106.77" y1="259" x2="106.77" y2="262" stroke="#000" stroke-width="2"/>
<line x1="79.85" y1="259" x2="79.85" y2="265" stroke="#000" stroke-width="2"/>
<text x="79.85" y="278.5" text-anchor="middle" font-size="14" font-weight="700">3500</text>
<line x1="52.92" y1="259" x2="52.92" y2="262" stroke="#000" stroke-width="2"/>
<line x1="26.00" y1="259" x2="26.00" y2="265" stroke="#000" stroke-width="2"/>
<text x="26.00" y="278.5" text-anchor="middle" font-size="14" font-weight="700">4000</text>
<rect x="435" y="3.1" width="350" height="256.9" fill="none" stroke="#000" stroke-width="2"/>
<line x1="785.00" y1="260" x2="785.00" y2="263" stroke="#000" stroke-width="2"/>
<line x1="758.08" y1="260" x2="758.08" y2="266" stroke="#000" stroke-width="2"/>
<text x="758.08" y="279.5" text-anchor="middle" font-size="14" font-weight="700">1000</text>
<line x1="731.15" y1="260" x2="731.15" y2="263" stroke="#000" stroke-width="2"/>
<line x1="704.23" y1="260" x2="704.23" y2="266" stroke="#000" stroke-width="2"/>
<text x="704.23" y="279.5" text-anchor="middle" font-size="14" font-weight="700">1500</text>
<line x1="677.31" y1="260" x2="677.31" y2="263" stroke="#000" stroke-width="2"/>
<line x1="650.38" y1="260" x2="650.38" y2="266" stroke="#000" stroke-width="2"/>
<text x="650.38" y="279.5" text-anchor="middle" font-size="14" font-weight="700">2000</text>
<line x1="623.46" y1="260" x2="623.46" y2="263" stroke="#000" stroke-width="2"/>
<line x1="596.54" y1="260" x2="596.54" y2="266" stroke="#000" stroke-width="2"/>
<text x="596.54" y="279.5" text-anchor="middle" font-size="14" font-weight="700">2500</text>
<line x1="569.62" y1="260" x2="569.62" y2="263" stroke="#000" stroke-width="2"/>
<line x1="542.69" y1="260" x2="542.69" y2="266" stroke="#000" stroke-width="2"/>
<text x="542.69" y="279.5" text-anchor="middle" font-size="14" font-weight="700">3000</text>
<line x1="515.77" y1="260" x2="515.77" y2="263" stroke="#000" stroke-width="2"/>
<line x1="488.85" y1="260" x2="488.85" y2="266" stroke="#000" stroke-width="2"/>
<text x="488.85" y="279.5" text-anchor="middle" font-size="14" font-weight="700">3500</text>
<line x1="461.92" y1="260" x2="461.92" y2="263" stroke="#000" stroke-width="2"/>
<line x1="435.00" y1="260" x2="435.00" y2="266" stroke="#000" stroke-width="2"/>
<text x="435.00" y="279.5" text-anchor="middle" font-size="14" font-weight="700">4000</text>
<text x="33.3" y="23.6" font-size="16.8" font-weight="700">(a)</text>
<text x="441.8" y="23.6" font-size="16.8" font-weight="700">(b)</text>
<text transform="translate(16.5,135.15) rotate(-90)" text-anchor="middle" font-size="20.4" font-weight="700">Transmittance (%)</text>
<text transform="translate(420.5,139.9) rotate(-90)" text-anchor="middle" font-size="20.4" font-weight="700">Transmittance (%)</text>
<text x="108" y="306" font-size="20.2" font-weight="700">Wavenumber (cm</text><text x="276" y="296" font-size="12" font-weight="700">-</text><text x="282" y="296" font-size="11.5" font-weight="700">1</text><text x="287" y="306" font-size="20.2" font-weight="700">)</text>
<text x="517" y="306" font-size="20.2" font-weight="700">Wavenumber (cm</text><text x="685" y="296" font-size="12" font-weight="700">-</text><text x="691" y="296" font-size="11.5" font-weight="700">1</text><text x="696" y="306" font-size="20.2" font-weight="700">)</text>
<g stroke-width="2.2">
<line x1="32" y1="209.7" x2="56" y2="209.7" stroke="#008000"/>
<line x1="32" y1="222.2" x2="56" y2="222.2" stroke="#ff00ff"/>
<line x1="32" y1="234.6" x2="56" y2="234.6" stroke="#0000ff"/>
<line x1="32" y1="246.8" x2="56" y2="246.8" stroke="#ff0000"/>
<line x1="441" y1="207.8" x2="465" y2="207.8" stroke="#ff00ff"/>
<line x1="441" y1="221.7" x2="465" y2="221.7" stroke="#0000ff"/>
<line x1="441" y1="235.4" x2="465" y2="235.4" stroke="#ff0000"/>
<line x1="441" y1="247.8" x2="465" y2="247.8" stroke="#000000"/>
</g>
<g font-size="10">
<text x="58.5" y="213.5">1500 kGy</text>
<text x="58.5" y="226">1000 kGy</text>
<text x="58.5" y="238.4">500 kGy</text>
<text x="58.5" y="250.6">200 kGy</text>
<text x="467" y="211.3">200 kGy + 130 °C 30 min</text>
<text x="467" y="225.2">200 kGy + 120 °C 30 min</text>
<text x="467" y="238.9">200 kGy + 110 °C 30 min</text>
<text x="467" y="251.3">200 kGy</text>
</g>
</svg>
</body></html>
